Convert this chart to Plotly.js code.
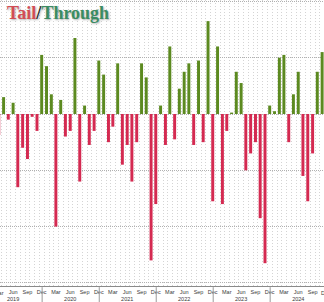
<!DOCTYPE html>
<html>
<head>
<meta charset="utf-8">
<script src="https://cdn.plot.ly/plotly-3.0.1.min.js"></script>
<style>html,body{margin:0;padding:0;background:#fff;}#chart{width:324px;height:302px;}</style>
</head>
<body>
<div id="chart"></div>
<script>
// Auction tail (-) / through (+), bp, one value per month
const months = [
  '2019-03','2019-04','2019-05','2019-06','2019-07','2019-08','2019-09','2019-10','2019-11','2019-12',
  '2020-01','2020-02','2020-03','2020-04','2020-05','2020-06','2020-07','2020-08','2020-09','2020-10','2020-11','2020-12',
  '2021-01','2021-02','2021-03','2021-04','2021-05','2021-06','2021-07','2021-08','2021-09','2021-10','2021-11','2021-12',
  '2022-01','2022-02','2022-03','2022-04','2022-05','2022-06','2022-07','2022-08','2022-09','2022-10','2022-11','2022-12',
  '2023-01','2023-02','2023-03','2023-04','2023-05','2023-06','2023-07','2023-08','2023-09','2023-10','2023-11','2023-12',
  '2024-01','2024-02','2024-03','2024-04','2024-05','2024-06','2024-07','2024-08','2024-09','2024-10','2024-11'
];
const tailThrough = [
  -0.75, 0.6, -0.2, 0.4, -2.6, -1.2, -1.6, -0.1, -0.6, 2.1,
  1.7, 0.7, -4.0, 0.5, -0.8, -0.6, 2.7, -2.4, 0.3, -1.1, -0.6, 1.9,
  1.4, -1.0, -0.45, 1.8, -1.8, -1.1, -2.4, -1.0, 1.8, 1.3, -5.2, -3.2,
  0.3, -1.1, 2.4, -0.9, 0.9, 1.5, 1.8, -1.1, 1.9, -1.0, 3.3, -3.1,
  2.4, -3.2, -0.6, 0.05, 1.5, 1.1, -2.0, -1.4, -1.0, -3.7, -5.3, 0.3,
  0.1, 2.0, 2.1, -1.0, 0.7, 1.5, -2.2, -3.1, -1.4, 1.5, 2.2
];
const tickMonths = [
  '2019-06','2019-09','2019-12',
  '2020-03','2020-06','2020-09','2020-12',
  '2021-03','2021-06','2021-09','2021-12',
  '2022-03','2022-06','2022-09','2022-12',
  '2023-03','2023-06','2023-09','2023-12',
  '2024-03','2024-06','2024-09'
];
const tickLabels = [
  'Jun<br>2019','Sep','Dec',
  'Mar','Jun<br>2020','Sep','Dec',
  'Mar','Jun<br>2021','Sep','Dec',
  'Mar','Jun<br>2022','Sep','Dec',
  'Mar','Jun<br>2023','Sep','Dec',
  'Mar','Jun<br>2024','Sep'
];
const yearEnds = ['2019-12','2020-12','2021-12','2022-12','2023-12'];

const GREEN = '#5c8a20', RED = '#d42a51';
const DAY = 86400000;

const trace = {
  type: 'bar',
  x: months.map(m => m + '-15'),
  y: tailThrough,
  width: months.map(() => 19 * DAY),
  marker: { color: tailThrough.map(v => v >= 0 ? GREEN : RED), line: { width: 0 } },
  hoverinfo: 'x+y'
};

const shapes = yearEnds.map(m => ({
  type: 'line', xref: 'x', yref: 'paper',
  x0: m + '-18', x1: m + '-18', y0: -0.004, y1: -0.06,
  line: { color: '#9a9a9a', width: 1 }
}));

const layout = {
  width: 324, height: 302,
  margin: { l: 0, r: 0, t: 0, b: 16, pad: 0 },
  paper_bgcolor: '#ffffff', plot_bgcolor: '#ffffff',
  showlegend: false,
  bargap: 0.3,
  xaxis: {
    type: 'date',
    range: ['2019-03-23', '2024-11-27'],
    tickmode: 'array',
    tickvals: tickMonths.map(m => m + '-15'),
    ticktext: tickLabels,
    ticks: '',
    showgrid: false,
    showline: true, linecolor: '#8a8a8a', linewidth: 1,
    tickfont: { family: 'Liberation Sans, Arial, sans-serif', size: 5.5, color: '#3a3a3a' },
    minor: { tickmode: 'linear', tick0: '2019-01-01', dtick: 'M1', showgrid: true, gridcolor: '#d4d4d4', griddash: '1px,2px', gridwidth: 1 },
    fixedrange: true
  },
  yaxis: {
    range: [-6.11, 4.05],
    tick0: 0, dtick: 2,
    showticklabels: false, ticks: '',
    showgrid: true, gridcolor: '#b0b0b0', griddash: '1px,1px', gridwidth: 1,
    zeroline: false, showline: false,
    fixedrange: true
  },
  shapes: shapes,
  annotations: [
    {
      xref: 'paper', yref: 'paper', x: 0.015, y: 1, xanchor: 'left', yanchor: 'top', yshift: -1,
      showarrow: false,
      text: '<b><span style="color:#d24d55">Tail</span><span style="color:#1a1a1a">/</span><span style="color:#3b8c62">Through</span></b>',
      font: { family: 'Liberation Serif, Times New Roman, serif', size: 18, shadow: '1px 1px 2px rgba(80,80,80,0.45)' }
    },
    {
      xref: 'paper', yref: 'paper', x: -0.0039, y: -0.008, xanchor: 'center', yanchor: 'top',
      showarrow: false, text: 'Mar',
      font: { family: 'Liberation Sans, Arial, sans-serif', size: 5.5, color: '#3a3a3a' }
    },
    {
      xref: 'paper', yref: 'paper', x: 1.0077, y: -0.008, xanchor: 'center', yanchor: 'top',
      showarrow: false, text: 'Dec',
      font: { family: 'Liberation Sans, Arial, sans-serif', size: 5.5, color: '#3a3a3a' }
    }
  ]
};

Plotly.newPlot('chart', [trace], layout, { displayModeBar: false, staticPlot: true });
</script>
</body>
</html>
